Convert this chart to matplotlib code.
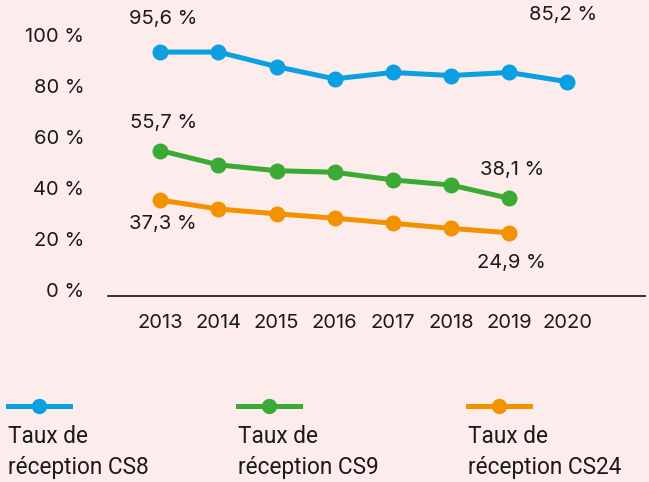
import matplotlib

matplotlib.use("Agg", force=True)
import matplotlib.pyplot as plt
from matplotlib.lines import Line2D
from matplotlib.transforms import ScaledTranslation

years = [2013, 2014, 2015, 2016, 2017, 2018, 2019, 2020]
cs8 = [95.6, 95.6, 89.9, 85.1, 87.6, 86.4, 87.6, 84.0]
cs9 = [57.0, 51.4, 49.1, 48.5, 45.5, 43.5, 38.3]
cs24 = [37.6, 34.1, 32.2, 30.5, 28.5, 26.5, 24.8]
y_ticks = [0, 20, 40, 60, 80, 100]
y_tick_labels = ["0 %", "20 %", "40 %", "60 %", "80 %", "100 %"]
series_names = ["Taux de\nréception CS8", "Taux de\nréception CS9", "Taux de\nréception CS24"]
first_labels = ["95,6 %", "55,7 %", "37,3 %"]
last_labels = ["85,2 %", "38,1 %", "24,9 %"]

BG = "#fdecec"
COLORS = ["#0aa0e1", "#3aaa35", "#f39200"]
TXT = "#1a1a1a"

plt.rcParams["font.family"] = ["Inter", "DejaVu Sans"]

fig = plt.figure(figsize=(6.49, 4.82), dpi=100, facecolor=BG)
W, H = 649, 482
ax = fig.add_axes([108 / W, (H - 296) / H, (645 - 108) / W, 296 / H])
ax.set_facecolor(BG)

series = [cs8, cs9, cs24]
for vals, col in zip(series, COLORS):
    ax.plot(years[: len(vals)], vals, color=col, lw=3.6, marker="o", ms=10.5,
            solid_capstyle="round", zorder=3)

# value labels at start / end of each series (offsets in points)
first_off = [(2, 24), (2, 20), (2, -17)]
last_off = [(-3, 48), (2, 20), (2, -22)]
for vals, lab, off in zip(series, first_labels, first_off):
    ax.annotate(lab, (years[0], vals[0]), xytext=off, textcoords="offset points",
                ha="center", va="center", fontsize=14.5, color=TXT)
for vals, lab, off in zip(series, last_labels, last_off):
    ax.annotate(lab, (years[len(vals) - 1], vals[-1]), xytext=off,
                textcoords="offset points", ha="center", va="center",
                fontsize=14.5, color=TXT)

ax.set_xlim(2012.1, 2021.34)
ax.set_ylim(0, 116)
ax.set_xticks(years)
ax.set_xticklabels([str(y) for y in years], fontsize=14.5, color=TXT)
ax.set_yticks(y_ticks)
ax.set_yticklabels(y_tick_labels, fontsize=14.5, color=TXT)
ax.tick_params(axis="both", length=0)
ax.tick_params(axis="y", pad=17)
ax.tick_params(axis="x", pad=13)
shift = ScaledTranslation(0, 6 / 100, fig.dpi_scale_trans)
for lab in ax.get_yticklabels():
    lab.set_transform(lab.get_transform() + shift)

for s in ["top", "right", "left"]:
    ax.spines[s].set_visible(False)
ax.spines["bottom"].set_linewidth(1.2)
ax.spines["bottom"].set_color("#111111")

# legend, drawn by hand: line + marker above two-line label
for i, (col, name) in enumerate(zip(COLORS, series_names)):
    x0 = (8 + 230 * i) / W
    x1 = x0 + 62 / W
    yl = (H - 406) / H
    fig.add_artist(Line2D([x0, x1], [yl, yl], color=col, lw=3.6,
                          transform=fig.transFigure))
    fig.add_artist(Line2D([(x0 + x1) / 2], [yl], color=col, marker="o", ms=10,
                          transform=fig.transFigure))
    fig.text(x0, (H - 452) / H, name, fontsize=16.3, color=TXT, ha="left",
             va="center", linespacing=1.4, family=["Roboto", "DejaVu Sans"])

fig.savefig("out.png", dpi=100, facecolor=BG)
